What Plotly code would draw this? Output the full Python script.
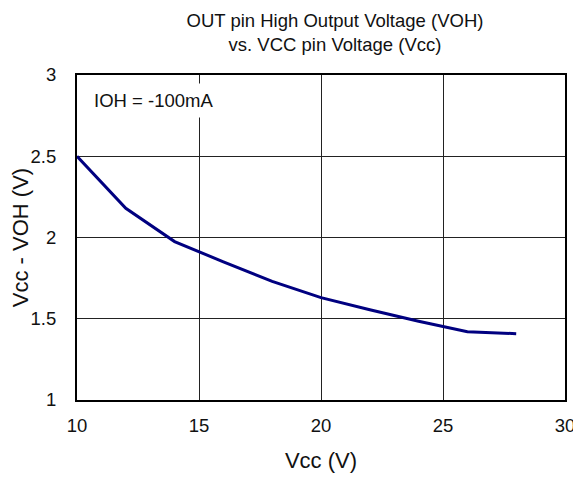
import plotly.graph_objects as go

vcc = [10, 12, 14, 16, 18, 20, 22, 24, 26, 28]
vcc_minus_voh = [2.50, 2.18, 1.975, 1.85, 1.73, 1.63, 1.555, 1.485, 1.42, 1.408]

x_ticks = [10, 15, 20, 25, 30]
y_ticks = [1, 1.5, 2, 2.5, 3]
y_tick_labels = ["1", "1.5", "2", "2.5", "3"]

FONT = "Liberation Sans, Arial, sans-serif"
FS = 18.5

fig = go.Figure()
fig.add_trace(go.Scatter(x=vcc, y=vcc_minus_voh, mode="lines",
                         line=dict(color="#000080", width=3), showlegend=False))

fig.update_layout(
    width=581, height=478,
    margin=dict(l=69, r=24, t=67, b=86),
    paper_bgcolor="white", plot_bgcolor="white",
    font=dict(family=FONT, size=FS, color="#111"),
    title=dict(text="OUT pin High Output Voltage (VOH)<br>vs. VCC pin Voltage (Vcc)",
               x=327 / 581, xanchor="center", y=1 - 19 / 478, yanchor="middle",
               font=dict(size=FS, color="#111")),
    annotations=[dict(text="IOH = -100mA", xref="x", yref="y", x=10.4, y=2.842,
                      xanchor="left", yanchor="middle", showarrow=False,
                      bgcolor="white", borderpad=6, font=dict(size=FS, color="#111"))],
)
fig.update_xaxes(range=[10, 30], tickvals=x_ticks, showgrid=True, gridcolor="#222",
                 gridwidth=1, zeroline=False, showline=True, linecolor="black",
                 linewidth=2, mirror=True, ticks="", title=dict(text="Vcc (V)", standoff=17),
                 ticklabelstandoff=8, automargin=False)
fig.update_yaxes(range=[1, 3], tickvals=y_ticks, ticktext=y_tick_labels, showgrid=True,
                 gridcolor="#222", gridwidth=1, zeroline=False, showline=True,
                 linecolor="black", linewidth=2, mirror=True, ticks="",
                 title=dict(text="Vcc - VOH (V)", standoff=2), ticklabelstandoff=15,
                 automargin=False)

fig.write_html("out.html")
